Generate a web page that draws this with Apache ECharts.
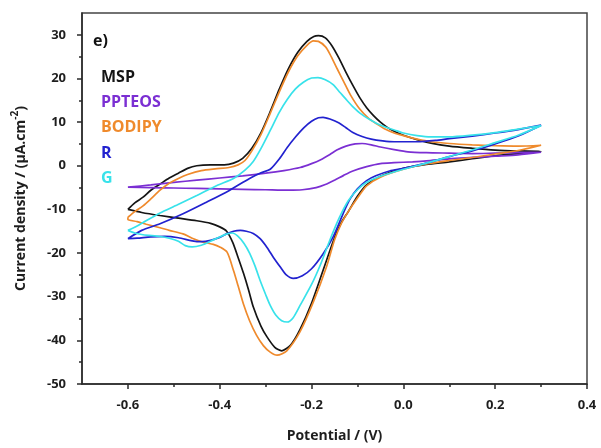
<!DOCTYPE html>
<html><head><meta charset="utf-8">
<script src="https://cdn.jsdelivr.net/npm/echarts@6/dist/echarts.min.js"></script>
<style>html,body{margin:0;padding:0;background:#fff}#c{width:601px;height:448px}</style>
</head><body><div id="c"></div>
<script>
const seriesNames = ['MSP', 'PPTEOS', 'BODIPY', 'R', 'G'];
const seriesColors = ['#151515', '#7b2fd3', '#ef8a2c', '#2222cf', '#38e2ea'];

// Potential (V), current density (µA.cm-2); each loop: forward branch then return branch
const MSP = [
  [-0.6,-10],[-0.585,-8.5],[-0.567,-7.2],[-0.55,-5.6],[-0.53,-4.2],[-0.51,-2.8],[-0.49,-1.7],[-0.47,-0.6],[-0.45,0],[-0.42,0.2],[-0.39,0.2],[-0.37,0.6],[-0.35,1.7],[-0.33,4.0],[-0.31,7.6],[-0.29,12.4],[-0.27,17.6],[-0.25,22.3],[-0.23,26.0],[-0.21,28.5],[-0.195,29.6],[-0.185,29.8],[-0.17,29.3],[-0.155,27.4],[-0.14,24.6],[-0.125,21.4],[-0.11,18.4],[-0.095,15.6],[-0.08,13.3],[-0.065,11.5],[-0.05,10.0],[-0.035,8.8],[-0.02,7.9],[0,7.0],[0.03,6.0],[0.06,5.2],[0.1,4.5],[0.15,4.0],[0.2,3.6],[0.25,3.4],[0.3,3.3],
  [0.25,2.8],[0.2,2.3],[0.15,1.6],[0.1,0.9],[0.05,0.3],[0,-0.6],[-0.05,-2.4],[-0.08,-4.4],[-0.1,-7.0],[-0.12,-10.5],[-0.135,-13],[-0.15,-16.5],[-0.175,-24],[-0.2,-31.5],[-0.225,-37.5],[-0.245,-41],[-0.265,-42.4],[-0.28,-41.6],[-0.297,-39.2],[-0.31,-36.8],[-0.327,-32.3],[-0.337,-28.5],[-0.348,-24.7],[-0.36,-21],[-0.372,-17.5],[-0.385,-15],[-0.4,-14],[-0.42,-13.2],[-0.45,-12.6],[-0.49,-12.0],[-0.53,-11.4],[-0.57,-10.7],[-0.6,-10]
];
const PPTEOS = [
  [-0.6,-4.9],[-0.55,-4.4],[-0.5,-3.8],[-0.45,-3.3],[-0.4,-2.8],[-0.35,-2.3],[-0.3,-1.7],[-0.26,-1.1],[-0.225,-0.4],[-0.2,0.5],[-0.18,1.4],[-0.16,2.6],[-0.145,3.6],[-0.125,4.5],[-0.105,5.0],[-0.09,5.1],[-0.07,4.8],[-0.05,4.3],[-0.02,3.7],[0.01,3.2],[0.05,3.0],[0.1,2.9],[0.15,2.8],[0.2,2.9],[0.25,3.0],[0.3,3.1],
  [0.25,2.5],[0.2,2.2],[0.15,1.9],[0.1,1.6],[0.05,1.1],[0.02,0.9],[-0.02,0.7],[-0.05,0.5],[-0.08,-0.2],[-0.11,-1.2],[-0.13,-2.2],[-0.15,-3.3],[-0.17,-4.3],[-0.19,-5.0],[-0.22,-5.5],[-0.25,-5.6],[-0.3,-5.5],[-0.35,-5.4],[-0.4,-5.3],[-0.45,-5.2],[-0.5,-5.1],[-0.55,-5.0],[-0.6,-4.9]
];
const BODIPY = [
  [-0.6,-11.8],[-0.585,-10.5],[-0.567,-9.2],[-0.55,-7.6],[-0.53,-5.6],[-0.51,-4.0],[-0.49,-2.9],[-0.47,-2.0],[-0.44,-1.1],[-0.41,-0.7],[-0.38,-0.4],[-0.36,0.2],[-0.345,1.2],[-0.33,3.4],[-0.31,7.2],[-0.29,12.0],[-0.27,17.0],[-0.25,21.6],[-0.23,25.2],[-0.21,27.6],[-0.196,28.6],[-0.185,28.5],[-0.17,27.3],[-0.16,25.6],[-0.145,22.4],[-0.13,19.3],[-0.115,16.2],[-0.095,13.0],[-0.075,10.8],[-0.058,9.6],[-0.04,8.4],[-0.02,7.5],[0,6.9],[0.03,6.1],[0.06,5.5],[0.1,5.1],[0.15,4.8],[0.2,4.6],[0.25,4.5],[0.3,4.7],
  [0.25,3.5],[0.2,2.7],[0.15,1.9],[0.1,1.2],[0.05,0.4],[0,-0.8],[-0.05,-2.6],[-0.08,-4.6],[-0.1,-7.4],[-0.12,-10.5],[-0.135,-13.2],[-0.15,-17],[-0.167,-23],[-0.196,-31.2],[-0.225,-38],[-0.254,-42.4],[-0.275,-43.4],[-0.29,-42.7],[-0.305,-41.2],[-0.32,-38.8],[-0.335,-35.5],[-0.348,-31.8],[-0.36,-27.5],[-0.37,-24],[-0.384,-19.8],[-0.4,-18.6],[-0.414,-18.0],[-0.436,-17.5],[-0.46,-16.6],[-0.48,-15.6],[-0.51,-14.8],[-0.53,-14.2],[-0.56,-13.4],[-0.58,-12.8],[-0.6,-12.3],[-0.6,-11.8]
];
const R = [
  [-0.6,-16.7],[-0.57,-14.8],[-0.53,-13.3],[-0.48,-11.0],[-0.43,-8.4],[-0.38,-5.7],[-0.335,-2.9],[-0.31,-1.6],[-0.29,-0.8],[-0.27,1.6],[-0.253,4.2],[-0.235,6.6],[-0.217,8.7],[-0.2,10.2],[-0.185,11.0],[-0.175,11.1],[-0.16,10.7],[-0.14,9.8],[-0.125,8.7],[-0.11,7.6],[-0.09,6.7],[-0.07,6.1],[-0.045,5.7],[-0.02,5.5],[0,5.5],[0.03,5.5],[0.07,5.8],[0.1,6.2],[0.15,6.8],[0.2,7.5],[0.25,8.3],[0.3,9.3],
  [0.25,6.8],[0.2,5.0],[0.15,3.4],[0.1,2.1],[0.05,0.6],[0,-0.6],[-0.03,-1.2],[-0.06,-2.3],[-0.08,-3.4],[-0.1,-5.3],[-0.116,-7.6],[-0.131,-10.9],[-0.153,-16.3],[-0.175,-20.2],[-0.2,-23.6],[-0.22,-25.2],[-0.24,-25.8],[-0.255,-25.0],[-0.268,-23.2],[-0.283,-21],[-0.297,-18.7],[-0.312,-16.7],[-0.327,-15.5],[-0.342,-15.0],[-0.355,-14.8],[-0.37,-15.0],[-0.385,-15.6],[-0.4,-16.4],[-0.42,-17.1],[-0.44,-17.4],[-0.46,-17.2],[-0.49,-16.5],[-0.52,-16.2],[-0.55,-16.3],[-0.58,-16.6],[-0.6,-16.7]
];
const G = [
  [-0.6,-14.8],[-0.58,-13.8],[-0.567,-13.0],[-0.53,-10.8],[-0.493,-9.0],[-0.45,-6.8],[-0.406,-4.5],[-0.37,-2.9],[-0.345,-1.0],[-0.327,1.0],[-0.31,4.0],[-0.29,8.1],[-0.27,12.3],[-0.253,15.2],[-0.235,17.6],[-0.217,19.2],[-0.2,20.1],[-0.186,20.2],[-0.17,19.7],[-0.153,18.6],[-0.138,16.8],[-0.123,15.0],[-0.108,13.3],[-0.094,12.0],[-0.075,10.7],[-0.058,9.7],[-0.035,8.7],[-0.014,8.0],[0,7.5],[0.03,6.9],[0.06,6.6],[0.1,6.6],[0.15,7.0],[0.2,7.6],[0.25,8.4],[0.3,9.2],
  [0.25,7.0],[0.2,5.3],[0.15,3.6],[0.1,2.1],[0.05,0.6],[0,-0.8],[-0.05,-2.4],[-0.08,-3.8],[-0.1,-5.5],[-0.12,-8],[-0.14,-12],[-0.16,-17],[-0.18,-22.5],[-0.2,-27.2],[-0.225,-32],[-0.24,-34.8],[-0.253,-35.8],[-0.265,-35.5],[-0.278,-34.2],[-0.29,-32],[-0.3,-29.5],[-0.312,-26.3],[-0.323,-23],[-0.335,-20],[-0.347,-17.8],[-0.36,-16.2],[-0.372,-15.4],[-0.384,-15.6],[-0.4,-16.3],[-0.42,-17.3],[-0.44,-18.2],[-0.46,-18.6],[-0.475,-18.3],[-0.49,-17.3],[-0.51,-16.6],[-0.53,-16.2],[-0.567,-15.8],[-0.585,-15.4],[-0.6,-14.8]
];
const seriesData = [MSP, PPTEOS, BODIPY, R, G];

const xMajorTicks = [-0.6, -0.4, -0.2, 0, 0.2, 0.4];
const xMinorTicks = [-0.5, -0.3, -0.1, 0.1, 0.3];
const yMajorTicks = [-50, -40, -30, -20, -10, 0, 10, 20, 30];
const yMinorTicks = [-45, -35, -25, -15, -5, 5, 15, 25];

const FONT = '"Open Sans", "Liberation Sans", Arial, sans-serif';
const axisColor = '#2a2a2a';
const labelStyle = { fontFamily: FONT, fontWeight: 'bold', fontSize: 13, color: '#1e1e1e' };

const chart = echarts.init(document.getElementById('c'), null, { renderer: 'canvas' });
chart.setOption({
  animation: false,
  backgroundColor: '#fff',
  grid: { left: 82, right: 14, top: 13, bottom: 63, show: true, borderColor: '#444', borderWidth: 1.5, backgroundColor: 'transparent' },
  graphic: [{ type: 'text', left: 93, top: 33, style: { text: 'e)', fontFamily: FONT, fontWeight: 'bold', fontSize: 16, fill: '#111' } }],
  legend: {
    orient: 'vertical', left: 91, top: 64, icon: 'none', itemWidth: 0, itemHeight: 16, itemGap: 9.4,
    selectedMode: false,
    textStyle: { fontFamily: FONT, fontWeight: 'bold', fontSize: 16 },
    data: seriesNames.map((n, i) => ({ name: n, textStyle: { color: seriesColors[i] } }))
  },
  xAxis: [
    {
      type: 'value', min: -0.7, max: 0.4, position: 'bottom',
      axisLine: { show: true, onZero: false, lineStyle: { color: axisColor, width: 1.5 } },
      axisTick: { show: true, customValues: xMajorTicks, length: 5, lineStyle: { color: axisColor, width: 1.5 } },
      axisLabel: Object.assign({ customValues: xMajorTicks, margin: 15, formatter: v => v.toFixed(1) }, labelStyle),
      splitLine: { show: false },
      name: 'Potential / (V)', nameLocation: 'middle', nameGap: 45,
      nameTextStyle: { fontFamily: FONT, fontWeight: 'bold', fontSize: 14, color: '#1e1e1e' }
    },
    {
      type: 'value', min: -0.7, max: 0.4, position: 'bottom',
      axisLine: { show: false, onZero: false },
      axisTick: { show: true, customValues: xMinorTicks, length: 3, lineStyle: { color: axisColor, width: 1.5 } },
      axisLabel: { show: false }, splitLine: { show: false }
    }
  ],
  yAxis: [
    {
      type: 'value', min: -50, max: 35, position: 'left',
      axisLine: { show: true, onZero: false, lineStyle: { color: axisColor, width: 1.5 } },
      axisTick: { show: true, customValues: yMajorTicks, length: 5, lineStyle: { color: axisColor, width: 1.5 } },
      axisLabel: Object.assign({ customValues: yMajorTicks, margin: 16 }, labelStyle),
      splitLine: { show: false },
      name: '{a|Current density / (µA.cm}{s|-2}{a|)}', nameLocation: 'middle', nameGap: 54, nameRotate: 90,
      nameTextStyle: {
        rich: {
          a: { fontFamily: FONT, fontWeight: 'bold', fontSize: 14, color: '#1e1e1e', lineHeight: 18, verticalAlign: 'bottom' },
          s: { fontFamily: FONT, fontWeight: 'bold', fontSize: 10, color: '#1e1e1e', lineHeight: 18, verticalAlign: 'top', padding: [0, 0, 6, 0] }
        }
      }
    },
    {
      type: 'value', min: -50, max: 35, position: 'left',
      axisLine: { show: false, onZero: false },
      axisTick: { show: true, customValues: yMinorTicks, length: 3, lineStyle: { color: axisColor, width: 1.5 } },
      axisLabel: { show: false }, splitLine: { show: false }
    }
  ],
  series: seriesNames.map((n, i) => ({
    name: n, type: 'line', xAxisIndex: 0, yAxisIndex: 0,
    data: seriesData[i], showSymbol: false, smooth: 0.25,
    lineStyle: { color: seriesColors[i], width: 1.7 },
    itemStyle: { color: seriesColors[i] },
    z: 2 + i
  }))
});
</script></body></html>
